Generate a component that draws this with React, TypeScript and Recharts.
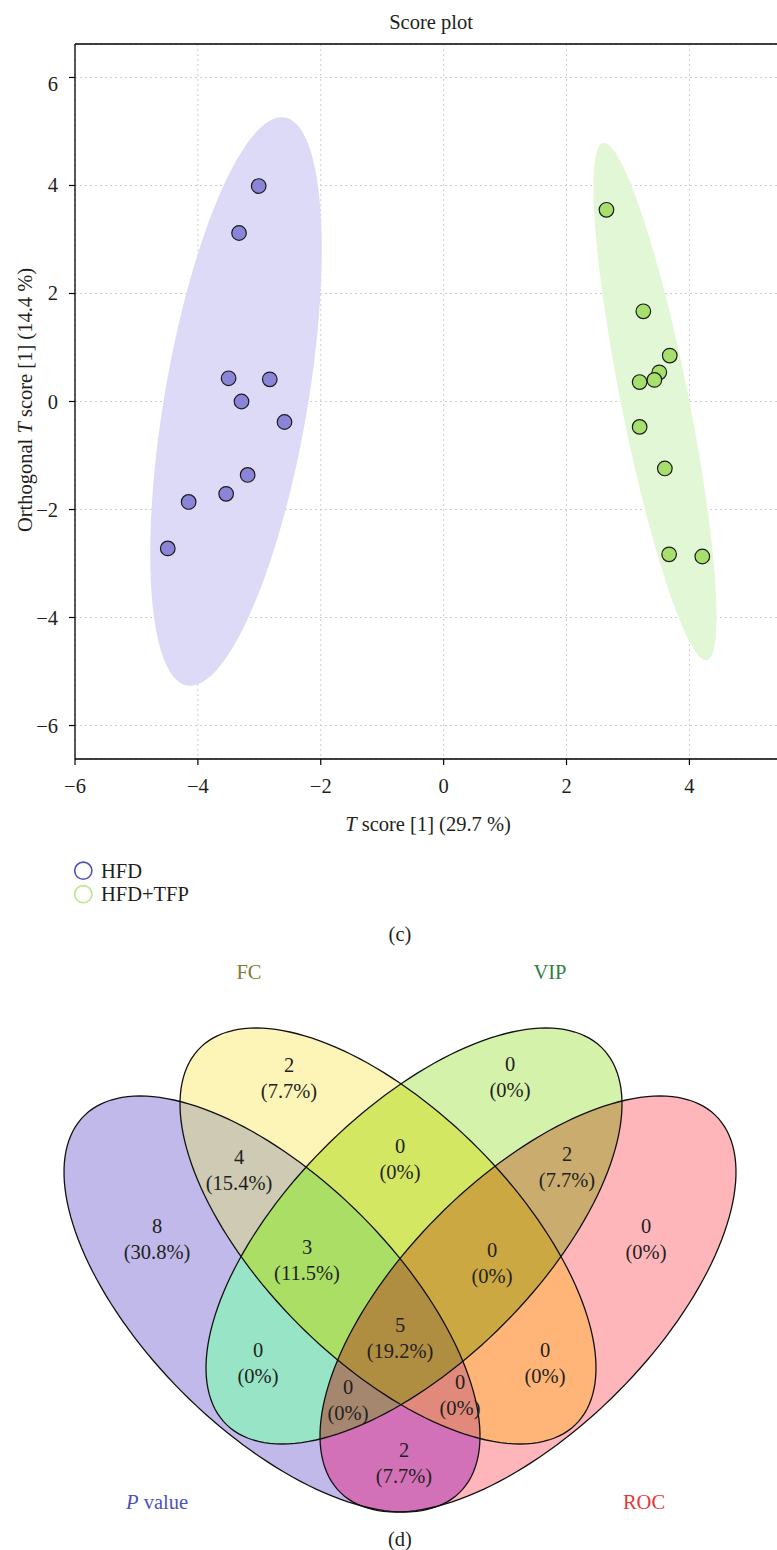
import React from "react";
import {
  CartesianGrid,
  ReferenceLine,
  Scatter,
  ScatterChart,
  XAxis,
  YAxis,
} from "recharts";

const FONT = '"Liberation Serif", "Times New Roman", serif';
const FS = 20.5;
const INK = "#231f20";

// OPLS-DA scores, one entry per animal
const GROUPS = ["HFD", "HFD+TFP"];
const HFD_T = [-3.01, -3.33, -3.5, -2.83, -3.29, -2.59, -3.19, -3.54, -4.15, -4.49];
const HFD_TO = [3.99, 3.12, 0.43, 0.41, 0.0, -0.38, -1.36, -1.71, -1.86, -2.72];
const TFP_T = [2.65, 3.25, 3.68, 3.51, 3.43, 3.19, 3.19, 3.6, 3.67, 4.21];
const TFP_TO = [3.55, 1.67, 0.85, 0.54, 0.4, 0.36, -0.47, -1.24, -2.83, -2.87];
const X_TICKS = [-6, -4, -2, 0, 2, 4];
const Y_TICKS = [-6, -4, -2, 0, 2, 4, 6];
const X_DOMAIN = [-6, 5.8];
const Y_DOMAIN = [-6.62, 6.62];

// Venn counts (features passing each filter)
const VENN_SETS = ["P", "FC", "VIP", "ROC"];
const VENN_SET_NAMES = ["P value", "FC", "VIP", "ROC"];
const REGION_SETS = [
  ["P"], ["FC"], ["VIP"], ["ROC"],
  ["P", "FC"], ["P", "VIP"], ["P", "ROC"], ["FC", "VIP"], ["FC", "ROC"], ["VIP", "ROC"],
  ["P", "FC", "VIP"], ["P", "FC", "ROC"], ["P", "VIP", "ROC"], ["FC", "VIP", "ROC"],
  ["P", "FC", "VIP", "ROC"],
];
const REGION_COUNTS = [8, 2, 0, 0, 4, 0, 2, 0, 0, 2, 3, 0, 0, 0, 5];

// ---- styling / layout ----
const GROUP_FILL = ["#8a85d6", "#a7df6c"];
const GROUP_RING = ["#4c51b6", "#bde68f"];
const GROUP_AREA = ["#dcdaf6", "#e2f7d5"];

type Ell = { cx: number; cy: number; ux: number; uy: number; vx: number };

// confidence regions in score units
const GROUP_ELLIPSE: Ell[] = [
  { cx: -3.38, cy: 0, ux: 0.745, uy: 5.265, vx: 1.18 },
  { cx: 3.44, cy: 0, ux: -0.83, uy: 4.79, vx: 0.56 },
];

// venn frame: x 0..777, y 950..1550 (downwards)
const VENN_HALF = 208;
const VENN_LEAN = 132;
const VENN_CENTRE: Record<string, [number, number, number]> = {
  P: [272, 1304, 1],
  FC: [388, 1236, 1],
  VIP: [414, 1236, -1],
  ROC: [528, 1304, -1],
};
const VENN_NAME_ANCHOR = [[157, 1502], [249, 972], [550, 972], [644, 1502]];
const VENN_NAME_COLOR = ["#4d52b6", "#807b36", "#2f7e40", "#e3393c"];
const REGION_FILL = [
  "#c1b9ea", "#fdf5b7", "#d5f2aa", "#feb6bb",
  "#cecab3", "#97e5c6", "#d371b8", "#d4e762", "#feb577", "#cbac6f",
  "#aade64", "#e1897a", "#a5866f", "#cba841",
  "#af8d41",
];
const REGION_ANCHOR = [
  [157, 1226], [289, 1065], [510, 1064], [646, 1226],
  [239, 1157], [258, 1350], [404, 1450], [400, 1146], [545, 1350], [567, 1154],
  [307, 1247], [460, 1382], [348, 1387], [492, 1250],
  [400, 1325],
];

const TOTAL = REGION_COUNTS.reduce((a, b) => a + b, 0);
const pct = (n: number) => (n === 0 ? "0%" : `${((n / TOTAL) * 100).toFixed(1)}%`);
const fmt = (v: number) => String(v).replace("-", "\u2212");

function ellipseOutline(e: Ell, n = 160) {
  const pts = [];
  for (let i = 0; i < n; i++) {
    const t = (2 * Math.PI * i) / n;
    pts.push({
      x: e.cx + e.ux * Math.cos(t) + e.vx * Math.sin(t),
      y: e.cy + e.uy * Math.cos(t),
    });
  }
  return pts;
}

function vennEllipse(key: string): Ell {
  const [cx, cy, lean] = VENN_CENTRE[key];
  return {
    cx,
    cy,
    ux: lean * VENN_LEAN,
    uy: VENN_HALF,
    vx: Math.sqrt(VENN_HALF * VENN_HALF - VENN_LEAN * VENN_LEAN),
  };
}

const toPath = (pts: { x: number; y: number }[]) =>
  pts.map((p, i) => `${i ? "L" : "M"}${p.x.toFixed(2)},${p.y.toFixed(2)}`).join("") + "Z";

const Blank = () => <g />;

const XTick = ({ x, y, payload }: any) => (
  <text x={x} y={y + 14} textAnchor="middle" fontFamily={FONT} fontSize={FS} fill={INK}>
    {fmt(payload.value)}
  </text>
);

const YTick = ({ x, y, payload }: any) => (
  <text
    x={x}
    y={y + (payload.value === 6 ? 14 : 7)}
    textAnchor="end"
    fontFamily={FONT}
    fontSize={FS}
    fill={INK}
  >
    {fmt(payload.value)}
  </text>
);

function ScorePlot() {
  const groups = [
    HFD_T.map((x, i) => ({ x, y: HFD_TO[i] })),
    TFP_T.map((x, i) => ({ x, y: TFP_TO[i] })),
  ];
  // plot runs past the right edge of the page; the wrapper clips it
  return (
    <ScatterChart
      width={800}
      height={850}
      margin={{ top: 44, right: 0, bottom: 51, left: 15 }}
      accessibilityLayer={false}
    >
      <CartesianGrid stroke="#cdcdcd" strokeDasharray="2 3" />
      <XAxis
        type="number"
        dataKey="x"
        domain={X_DOMAIN}
        ticks={X_TICKS}
        interval={0}
        height={40}
        allowDataOverflow
        axisLine={{ stroke: "#000", strokeWidth: 1.3 }}
        tickLine={{ stroke: "#000", strokeWidth: 1.2 }}
        tickSize={6}
        tickMargin={14}
        tick={XTick}
      />
      <YAxis
        type="number"
        dataKey="y"
        domain={Y_DOMAIN}
        ticks={Y_TICKS}
        interval={0}
        width={60}
        allowDataOverflow
        axisLine={{ stroke: "#000", strokeWidth: 1.3 }}
        tickLine={{ stroke: "#000", strokeWidth: 1.2 }}
        tickSize={6}
        tickMargin={11}
        tick={YTick}
      />
      <ReferenceLine y={Y_DOMAIN[1]} stroke="#000" strokeWidth={1.3} ifOverflow="visible" />
      {GROUP_ELLIPSE.map((e, g) => (
        <Scatter
          key={`area-${g}`}
          data={ellipseOutline(e)}
          shape={Blank}
          legendType="none"
          isAnimationActive={false}
          line={(p: any) => <path d={toPath(p.points)} fill={GROUP_AREA[g]} stroke="none" />}
        />
      ))}
      {groups.map((data, g) => (
        <Scatter
          key={GROUPS[g]}
          name={GROUPS[g]}
          data={data}
          isAnimationActive={false}
          shape={(p: any) => (
            <circle cx={p.cx} cy={p.cy} r={7.3} fill={GROUP_FILL[g]} stroke="#1b1b1b" strokeWidth={1.2} />
          )}
        />
      ))}
    </ScatterChart>
  );
}

function VennPlot() {
  const outlines: Record<string, { x: number; y: number }[]> = {};
  VENN_SETS.forEach((k) => (outlines[k] = ellipseOutline(vennEllipse(k))));
  const labels = REGION_SETS.map((sets, i) => ({
    x: REGION_ANCHOR[i][0],
    y: REGION_ANCHOR[i][1],
    count: REGION_COUNTS[i],
  }));
  const names = VENN_SET_NAMES.map((name, i) => ({
    x: VENN_NAME_ANCHOR[i][0],
    y: VENN_NAME_ANCHOR[i][1],
    name,
    color: VENN_NAME_COLOR[i],
  }));

  return (
    <ScatterChart
      width={777}
      height={600}
      margin={{ top: 0, right: 0, bottom: 0, left: 0 }}
      accessibilityLayer={false}
    >
      <XAxis type="number" dataKey="x" domain={[0, 777]} hide />
      <YAxis type="number" dataKey="y" domain={[950, 1550]} reversed hide />
      {/* each exact region: paint the last set, clipped by the others; larger overlaps paint later */}
      {REGION_SETS.map((sets, i) => {
        const last = sets[sets.length - 1];
        const others = sets.slice(0, -1);
        return (
          <Scatter
            key={`region-${sets.join("-")}`}
            data={outlines[last]}
            shape={Blank}
            legendType="none"
            isAnimationActive={false}
            line={(p: any) => {
              const d = toPath(p.points);
              const body = <path d={d} fill={REGION_FILL[i]} stroke="none" />;
              if (others.length === 0) {
                return (
                  <g>
                    <clipPath id={`venn-clip-${last}`}>
                      <path d={d} />
                    </clipPath>
                    {body}
                  </g>
                );
              }
              return others.reduce(
                (acc, k) => <g clipPath={`url(#venn-clip-${k})`}>{acc}</g>,
                body
              );
            }}
          />
        );
      })}
      {VENN_SETS.map((k) => (
        <Scatter
          key={`edge-${k}`}
          data={outlines[k]}
          shape={Blank}
          legendType="none"
          isAnimationActive={false}
          line={(p: any) => <path d={toPath(p.points)} fill="none" stroke="#111" strokeWidth={1.3} />}
        />
      ))}
      <Scatter
        data={labels}
        legendType="none"
        isAnimationActive={false}
        shape={(p: any) => (
          <g fontFamily={FONT} fontSize={FS} fill={INK} textAnchor="middle">
            <text x={p.cx} y={p.cy + 7}>{p.payload.count}</text>
            <text x={p.cx} y={p.cy + 33}>({pct(p.payload.count)})</text>
          </g>
        )}
      />
      <Scatter
        data={names}
        legendType="none"
        isAnimationActive={false}
        shape={(p: any) => (
          <text
            x={p.cx}
            y={p.cy + 7}
            textAnchor="middle"
            fontFamily={FONT}
            fontSize={FS}
            fill={p.payload.color}
          >
            {p.payload.name === "P value" ? (
              <>
                <tspan fontStyle="italic">P</tspan>
                {" value"}
              </>
            ) : (
              p.payload.name
            )}
          </text>
        )}
      />
    </ScatterChart>
  );
}

export default function App() {
  return (
    <div
      style={{
        position: "absolute",
        left: 0,
        top: 0,
        width: 777,
        height: 1550,
        overflow: "hidden",
        background: "#fff",
      }}
    >
      <div style={{ position: "absolute", left: 0, top: 0 }}>
        <ScorePlot />
      </div>
      <div style={{ position: "absolute", left: 0, top: 950 }}>
        <VennPlot />
      </div>
      <svg
        width={777}
        height={1550}
        style={{ position: "absolute", left: 0, top: 0, pointerEvents: "none" }}
        fontFamily={FONT}
        fontSize={FS}
        fill={INK}
      >
        <text x={431} y={29} textAnchor="middle">Score plot</text>
        <text x={32} y={400} textAnchor="middle" transform="rotate(-90 32 400)">
          Orthogonal <tspan fontStyle="italic">T</tspan>
          {" score [1] (14.4 %)"}
        </text>
        <text x={428} y={831} textAnchor="middle">
          <tspan fontStyle="italic">T</tspan>
          {" score [1] (29.7 %)"}
        </text>
        {GROUPS.map((g, i) => (
          <g key={g}>
            <circle cx={83.3} cy={870.7 + i * 23.5} r={8.6} fill="none" stroke={GROUP_RING[i]} strokeWidth={1.6} />
            <text x={101} y={877.5 + i * 23.5}>{g}</text>
          </g>
        ))}
        <text x={400} y={941} textAnchor="middle">(c)</text>
        <text x={400} y={1546} textAnchor="middle">(d)</text>
      </svg>
    </div>
  );
}
